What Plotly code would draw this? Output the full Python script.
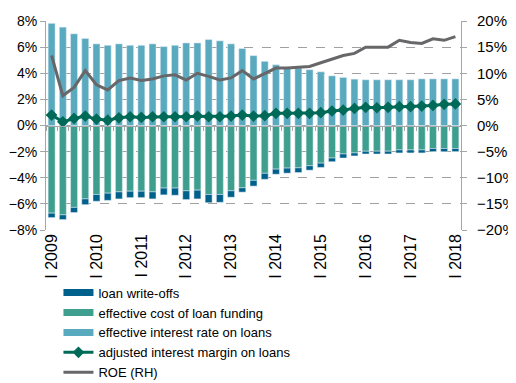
import plotly.graph_objects as go

quarters = []
for yr in range(2009, 2018):
    for q in ["I", "II", "III", "IV"]:
        quarters.append(f"{q} {yr}")
quarters.append("I 2018")

tick_labels = [f"I {yr}" for yr in range(2009, 2019)]

interest_rate = [7.82, 7.53, 7.02, 6.66, 6.25, 6.14, 6.25, 6.14, 6.14, 6.25, 6.04, 6.14, 6.32, 6.32, 6.58,
                 6.48, 6.25, 5.89, 5.35, 4.91, 4.65, 4.40, 4.40, 4.27, 4.11, 3.80, 3.68, 3.55, 3.50, 3.50,
                 3.50, 3.50, 3.50, 3.57, 3.57, 3.57, 3.57]
funding_cost = [-6.71, -6.84, -6.27, -5.62, -5.28, -5.18, -5.08, -5.03, -5.03, -5.08, -4.79, -4.79, -5.00,
                -4.95, -5.28, -5.28, -5.00, -4.77, -4.20, -3.66, -3.34, -3.26, -3.24, -3.08, -2.88, -2.49,
                -2.18, -2.10, -1.97, -1.97, -1.97, -1.87, -1.87, -1.87, -1.76, -1.76, -1.76]
write_offs = [-0.34, -0.36, -0.39, -0.44, -0.52, -0.55, -0.54, -0.49, -0.49, -0.54, -0.52, -0.55, -0.67,
              -0.67, -0.63, -0.60, -0.49, -0.33, -0.44, -0.46, -0.39, -0.39, -0.36, -0.34, -0.33, -0.28,
              -0.31, -0.23, -0.21, -0.21, -0.21, -0.23, -0.23, -0.23, -0.24, -0.24, -0.24]
adj_margin = [0.80, 0.28, 0.54, 0.72, 0.49, 0.41, 0.59, 0.67, 0.62, 0.67, 0.67, 0.67, 0.67, 0.72, 0.67,
              0.67, 0.72, 0.80, 0.72, 0.75, 0.93, 0.93, 0.93, 0.93, 0.98, 1.11, 1.18, 1.31, 1.39, 1.36,
              1.39, 1.44, 1.44, 1.49, 1.54, 1.62, 1.65]
roe = [13.4, 5.7, 7.3, 10.5, 7.8, 6.8, 8.6, 9.1, 8.6, 8.9, 9.5, 9.7, 8.7, 10.0, 9.4, 8.7, 9.1, 10.5, 8.9,
       9.9, 11.0, 11.0, 11.1, 11.3, 12.0, 12.7, 13.4, 13.8, 15.0, 15.0, 15.0, 16.3, 15.9, 15.7, 16.6,
       16.3, 17.0]

C_WO = "#00608C"
C_COST = "#3E9F8F"
C_RATE = "#5AAABF"
C_MARGIN = "#006A58"
C_ROE = "#67676A"
AX = "#A6A6A6"

fig = go.Figure()
fig.add_trace(go.Bar(x=quarters, y=funding_cost, marker_color=C_COST, showlegend=False))
fig.add_trace(go.Bar(x=quarters, y=write_offs, marker_color=C_WO, showlegend=False))
fig.add_trace(go.Bar(x=quarters, y=interest_rate, marker_color=C_RATE, showlegend=False))
fig.add_trace(go.Scatter(x=quarters, y=adj_margin, mode="lines+markers",
                         line=dict(color=C_MARGIN, width=3),
                         marker=dict(symbol="diamond", size=9, color=C_MARGIN),
                         name="adjusted interest margin on loans", legendrank=4))
fig.add_trace(go.Scatter(x=quarters, y=roe, mode="lines", yaxis="y2",
                         line=dict(color=C_ROE, width=3), name="ROE (RH)", legendrank=5))
# legend proxies for the bars (wide rectangles like the original)
for nm, col, rk in [("loan write-offs", C_WO, 1), ("effective cost of loan funding", C_COST, 2),
                    ("effective interest rate on loans", C_RATE, 3)]:
    fig.add_trace(go.Scatter(x=[None], y=[None], mode="lines", line=dict(color=col, width=7),
                             name=nm, legendrank=rk))
# invisible trace for the zero category axis
fig.add_trace(go.Scatter(x=quarters, y=[None] * len(quarters), xaxis="x2", showlegend=False,
                         hoverinfo="skip"))

n = len(quarters)
font = dict(family="Liberation Sans, Arial, sans-serif", size=16, color="#000000")
fig.update_layout(
    width=508, height=375,
    margin=dict(l=38, r=55, t=13, b=153, autoexpand=False),
    paper_bgcolor="white", plot_bgcolor="white",
    barmode="relative", bargap=0.38,
    font=font,
    xaxis=dict(type="category", categoryorder="array", categoryarray=quarters,
               range=[-0.5, n - 0.5], autorange=False,
               tickmode="array", tickvals=tick_labels, ticktext=tick_labels,
               tickangle=-90, showgrid=False, showline=False, ticks="", zeroline=False,
               automargin=False),
    xaxis2=dict(type="category", categoryorder="array", categoryarray=quarters,
                overlaying="x", matches="x", anchor="free", position=0.5,
                tickmode="array", tickvals=quarters, tickson="boundaries",
                ticks="outside", ticklen=4, tickcolor=AX, showticklabels=False,
                showline=True, linecolor=AX, linewidth=1, showgrid=False),
    yaxis=dict(range=[-8, 8], dtick=2, ticksuffix="%", showgrid=True, gridcolor="#A0A0A0",
               griddash="dash", gridwidth=1, zeroline=False, showline=True, linecolor=AX,
               ticks="outside", ticklen=5, tickcolor=AX, ticklabelstandoff=0, automargin=False,
               tickfont=dict(size=14)),
    yaxis2=dict(range=[-20, 20], dtick=5, ticksuffix="%", overlaying="y", side="right",
                showgrid=False, zeroline=False, showline=True, linecolor=AX,
                ticks="outside", ticklen=5, tickcolor=AX, ticklabelstandoff=7, automargin=False,
                tickfont=dict(size=15)),
    legend=dict(x=0.03, y=-0.228, xanchor="left", yanchor="top", traceorder="normal",
                bgcolor="rgba(0,0,0,0)", font=dict(size=13), tracegroupgap=0),
    showlegend=True,
)

fig.write_html("out.html")
